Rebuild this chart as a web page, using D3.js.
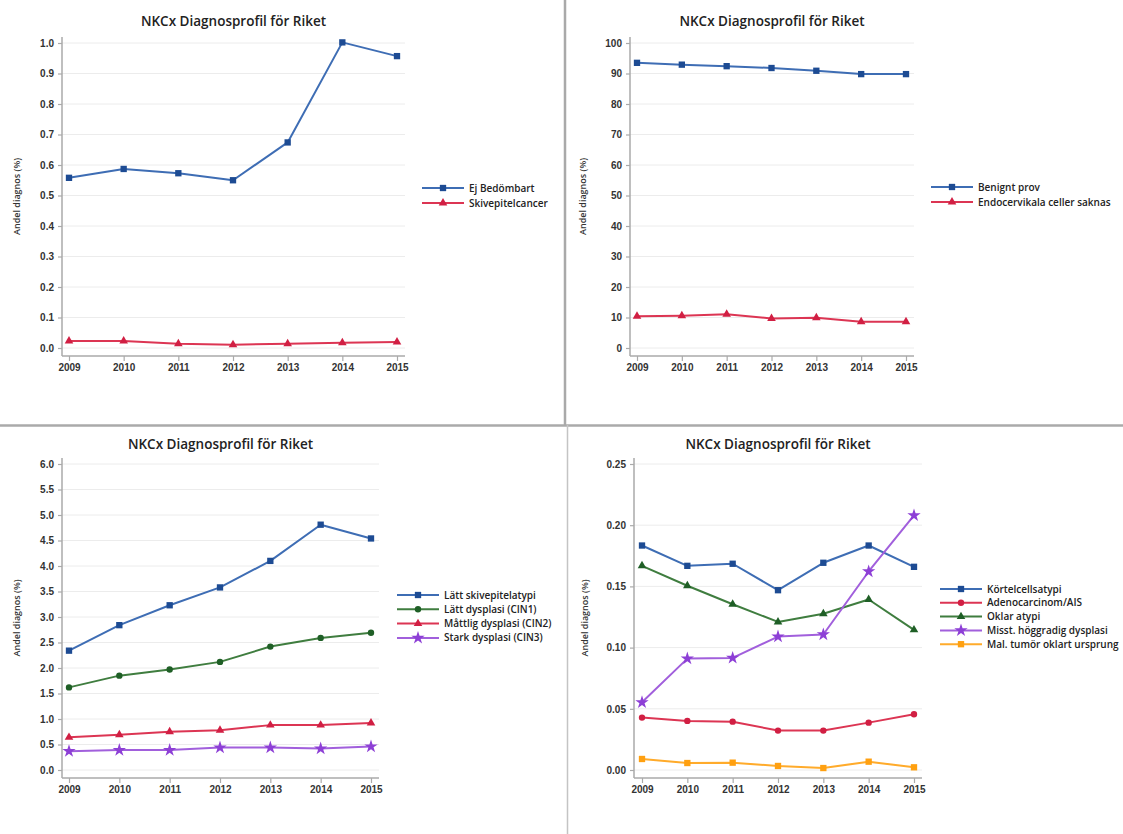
<!DOCTYPE html>
<html>
<head>
<meta charset="utf-8">
<script src="https://cdn.jsdelivr.net/npm/d3@7"></script>
<style>
  html, body { margin: 0; padding: 0; background: #fff; }
  svg { display: block; font-family: "Open Sans", "Noto Sans", sans-serif; }
  .title { font-size: 13.5px; font-weight: 600; fill: #222; }
  .tick text { font-size: 10px; font-weight: 700; fill: #333; }
  .ylab { font-size: 9px; font-weight: 600; fill: #333; }
  .legend text { font-size: 10px; font-weight: 600; fill: #222; }
</style>
</head>
<body>
<svg id="chart" width="1123" height="834"></svg>
<script>
// Years on the x axis
const years = [2009, 2010, 2011, 2012, 2013, 2014, 2015];

// Panel 1: Ej bedömbart / Skivepitelcancer
const ejBedombart      = [0.558, 0.587, 0.573, 0.550, 0.674, 1.002, 0.957];
const skivepitelcancer = [0.023, 0.023, 0.014, 0.011, 0.014, 0.017, 0.020];
const ticks1 = [0, 0.1, 0.2, 0.3, 0.4, 0.5, 0.6, 0.7, 0.8, 0.9, 1.0];

// Panel 2: Benignt prov / Endocervikala celler saknas
const benigntProv   = [93.5, 92.9, 92.4, 91.8, 90.9, 89.8, 89.8];
const endocervikala = [10.4, 10.6, 11.1, 9.7, 9.9, 8.6, 8.6];
const ticks2 = [0, 10, 20, 30, 40, 50, 60, 70, 80, 90, 100];

// Panel 3: skivepitelförändringar
const lattSkivepitelatypi = [2.34, 2.84, 3.23, 3.58, 4.10, 4.81, 4.54];
const lattDysplasi        = [1.62, 1.85, 1.97, 2.12, 2.42, 2.59, 2.69];
const mattligDysplasi     = [0.64, 0.69, 0.75, 0.78, 0.88, 0.88, 0.92];
const starkDysplasi       = [0.37, 0.39, 0.39, 0.44, 0.44, 0.42, 0.46];
const ticks3 = [0, 0.5, 1.0, 1.5, 2.0, 2.5, 3.0, 3.5, 4.0, 4.5, 5.0, 5.5, 6.0];

// Panel 4: körtelcellsförändringar m.m.
const kortelcellsatypi  = [0.1834, 0.1668, 0.1685, 0.1469, 0.1693, 0.1834, 0.1660];
const adenocarcinom     = [0.0428, 0.0401, 0.0395, 0.0322, 0.0322, 0.0387, 0.0455];
const oklarAtypi        = [0.1668, 0.1505, 0.1354, 0.1210, 0.1276, 0.1393, 0.1145];
const misstHoggradig    = [0.0553, 0.0910, 0.0916, 0.1090, 0.1107, 0.1622, 0.2080];
const malTumor          = [0.0090, 0.0057, 0.0060, 0.0033, 0.0016, 0.0068, 0.0022];
const ticks4 = [0, 0.05, 0.10, 0.15, 0.20, 0.25];

const title = "NKCx Diagnosprofil för Riket";
const yTitle = "Andel diagnos (%)";

const C = {
  blue:   { line: "#3e6db4", mark: "#1d4b93" },
  red:    { line: "#dc3553", mark: "#d11f43" },
  green:  { line: "#3f7d3f", mark: "#1f5f26" },
  purple: { line: "#a15fdc", mark: "#8d3fd6" },
  orange: { line: "#ffab2b", mark: "#ffa010" }
};

const panels = [
  {
    xr: [69, 397], yr: [348, 43], ymax: 1.0, ticks: ticks1, fmt: d3.format(".1f"),
    axisX: 62, yLabX: 17, titleY: 26, legX: 422, legY: 188, legStep: 15,
    series: [
      { name: "Ej Bedömbart", values: ejBedombart, c: C.blue, sym: d3.symbolSquare, size: 40 },
      { name: "Skivepitelcancer", values: skivepitelcancer, c: C.red, sym: d3.symbolTriangle, size: 32 }
    ]
  },
  {
    xr: [637, 906], yr: [348, 43], ymax: 100, ticks: ticks2, fmt: d3.format("d"),
    axisX: 630, yLabX: 583, titleY: 26, legX: 931, legY: 187, legStep: 15,
    series: [
      { name: "Benignt prov", values: benigntProv, c: C.blue, sym: d3.symbolSquare, size: 40 },
      { name: "Endocervikala celler saknas", values: endocervikala, c: C.red, sym: d3.symbolTriangle, size: 32 }
    ]
  },
  {
    xr: [69, 371], yr: [770, 464], ymax: 6.0, ticks: ticks3, fmt: d3.format(".1f"),
    axisX: 62, yLabX: 17, titleY: 449, legX: 397, legY: 595, legStep: 14.3,
    series: [
      { name: "Lätt skivepitelatypi", values: lattSkivepitelatypi, c: C.blue, sym: d3.symbolSquare, size: 40 },
      { name: "Lätt dysplasi (CIN1)", values: lattDysplasi, c: C.green, sym: d3.symbolCircle, size: 32 },
      { name: "Måttlig dysplasi (CIN2)", values: mattligDysplasi, c: C.red, sym: d3.symbolTriangle, size: 32 },
      { name: "Stark dysplasi (CIN3)", values: starkDysplasi, c: C.purple, sym: d3.symbolStar, size: 55 }
    ]
  },
  {
    xr: [642, 914], yr: [770, 464], ymax: 0.25, ticks: ticks4, fmt: d3.format(".2f"),
    axisX: 634, yLabX: 585, titleY: 449, legX: 940, legY: 589, legStep: 13.8,
    series: [
      { name: "Körtelcellsatypi", values: kortelcellsatypi, c: C.blue, sym: d3.symbolSquare, size: 40 },
      { name: "Adenocarcinom/AIS", values: adenocarcinom, c: C.red, sym: d3.symbolCircle, size: 32 },
      { name: "Oklar atypi", values: oklarAtypi, c: C.green, sym: d3.symbolTriangle, size: 32 },
      { name: "Misst. höggradig dysplasi", values: misstHoggradig, c: C.purple, sym: d3.symbolStar, size: 55 },
      { name: "Mal. tumör oklart ursprung", values: malTumor, c: C.orange, sym: d3.symbolSquare, size: 40 }
    ]
  }
];

const svg = d3.select("#chart");

// Panel separators
svg.append("line").attr("x1", 565).attr("x2", 565).attr("y1", 0).attr("y2", 425)
  .attr("stroke", "#a9a9a9").attr("stroke-width", 2.5);
svg.append("line").attr("x1", 0).attr("x2", 1123).attr("y1", 425.5).attr("y2", 425.5)
  .attr("stroke", "#aaaaaa").attr("stroke-width", 2.5);
svg.append("line").attr("x1", 567.5).attr("x2", 567.5).attr("y1", 425).attr("y2", 834)
  .attr("stroke", "#c4c4c4").attr("stroke-width", 1.5);

panels.forEach(p => {
  const g = svg.append("g");
  const x = d3.scaleLinear().domain([years[0], years[years.length - 1]]).range(p.xr);
  const y = d3.scaleLinear().domain([0, p.ymax]).range(p.yr);

  const right = p.xr[1] + 8;
  const top = p.yr[1] - 6;
  const bottom = p.yr[0] + 8;

  // Horizontal gridlines
  g.append("g").selectAll("line").data(p.ticks).join("line")
    .attr("x1", p.axisX).attr("x2", right)
    .attr("y1", d => y(d)).attr("y2", d => y(d))
    .attr("stroke", "#ececec").attr("stroke-width", 1);

  // Y axis
  const ya = g.append("g").attr("transform", `translate(${p.axisX},0)`)
    .call(d3.axisLeft(y).tickValues(p.ticks).tickFormat(p.fmt).tickSize(4).tickPadding(4));
  ya.select(".domain").remove();
  ya.selectAll(".tick line").attr("stroke", "#aaa").attr("stroke-width", 1.2);

  // X axis
  const xa = g.append("g").attr("transform", `translate(0,${bottom})`)
    .call(d3.axisBottom(x).tickValues(years).tickFormat(d3.format("d")).tickSize(5).tickPadding(3));
  xa.select(".domain").remove();
  xa.selectAll(".tick line").attr("stroke", "#aaa").attr("stroke-width", 1.2);

  // Axis lines
  g.append("line").attr("x1", p.axisX).attr("x2", p.axisX).attr("y1", top).attr("y2", bottom)
    .attr("stroke", "#aaa").attr("stroke-width", 1.5);
  g.append("line").attr("x1", p.axisX).attr("x2", right).attr("y1", bottom).attr("y2", bottom)
    .attr("stroke", "#aaa").attr("stroke-width", 1.5);

  // Title
  g.append("text").attr("class", "title")
    .attr("x", (p.axisX + right) / 2).attr("y", p.titleY)
    .attr("text-anchor", "middle").text(title);

  // Y axis title
  g.append("text").attr("class", "ylab")
    .attr("transform", `translate(${p.yLabX},${(top + bottom) / 2}) rotate(-90)`)
    .attr("text-anchor", "middle").attr("dy", "0.35em").text(yTitle);

  // Series
  const line = d3.line().x((d, i) => x(years[i])).y(d => y(d));
  p.series.forEach(s => {
    g.append("path").datum(s.values)
      .attr("d", line).attr("fill", "none")
      .attr("stroke", s.c.line).attr("stroke-width", 2).attr("stroke-linejoin", "round");
    g.append("g").selectAll("path").data(s.values).join("path")
      .attr("transform", (d, i) => `translate(${x(years[i])},${y(d)})`)
      .attr("d", d3.symbol().type(s.sym).size(s.size))
      .attr("fill", s.c.mark);
  });

  // Legend
  const lg = g.append("g").attr("class", "legend");
  p.series.forEach((s, i) => {
    const ly = p.legY + i * p.legStep;
    lg.append("line").attr("x1", p.legX).attr("x2", p.legX + 42).attr("y1", ly).attr("y2", ly)
      .attr("stroke", s.c.line).attr("stroke-width", 2);
    lg.append("path").attr("transform", `translate(${p.legX + 21},${ly})`)
      .attr("d", d3.symbol().type(s.sym).size(s.size)).attr("fill", s.c.mark);
    lg.append("text").attr("x", p.legX + 47).attr("y", ly).attr("dy", "0.35em").text(s.name);
  });
});
</script>
</body>
</html>
